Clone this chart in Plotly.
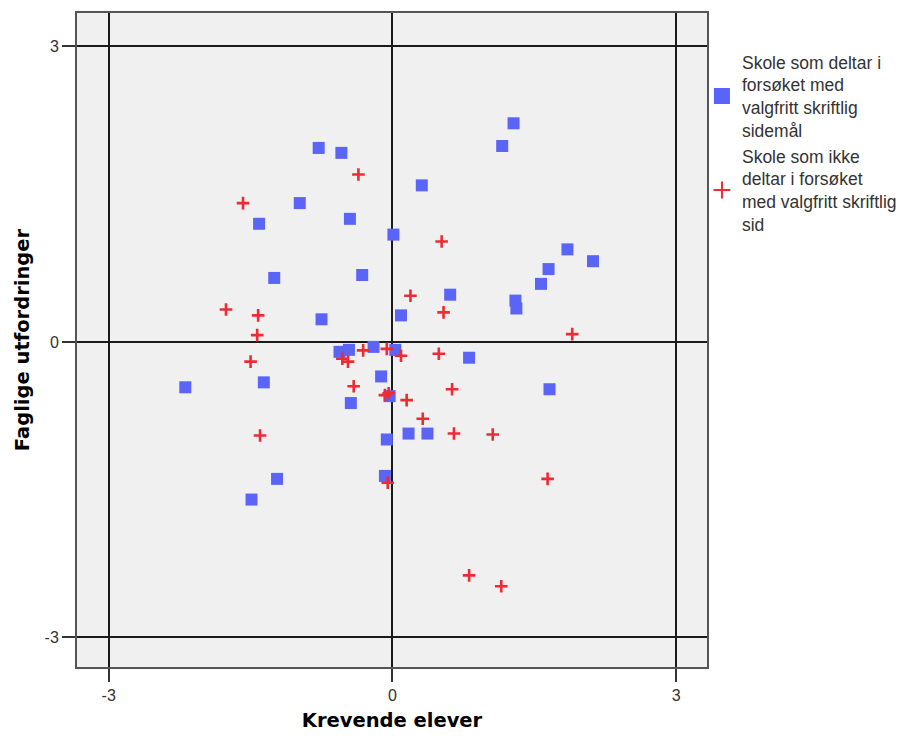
import plotly.graph_objects as go

# Schools taking part in the trial with optional written "sidemål"
deltar_x = [-0.78, -0.54, -0.98, -1.41, -0.45, 0.01, -1.25, -0.32, -0.75, 0.09,
            1.28, 1.16, 0.31, 1.85, 2.12, 1.65, 1.57, 0.61, 1.30, 1.31,
            -0.56, -0.46, -0.20, 0.03, 0.81, -2.19, -1.36, -0.12, -0.44, -0.03,
            -0.06, -1.22, -0.08, -1.49, 1.66, 0.17, 0.37]
deltar_y = [1.97, 1.92, 1.41, 1.20, 1.25, 1.09, 0.65, 0.68, 0.23, 0.27,
            2.22, 1.99, 1.59, 0.94, 0.82, 0.74, 0.59, 0.48, 0.42, 0.34,
            -0.10, -0.08, -0.05, -0.08, -0.16, -0.46, -0.41, -0.35, -0.62, -0.55,
            -0.99, -1.39, -1.36, -1.60, -0.48, -0.93, -0.93]

# Schools not taking part in the trial
ikke_x = [-0.36, -1.58, -1.76, -1.42, -1.43, 0.52, 0.19, 0.54, 1.90, -1.50,
          -0.53, -0.47, -0.31, -0.06, -0.41, -0.08, -0.04, -1.40, -0.05, 0.09,
          0.49, 0.63, 0.15, 0.32, 0.65, 1.06, 1.64, 0.81, 1.15]
ikke_y = [1.70, 1.41, 0.33, 0.27, 0.07, 1.02, 0.47, 0.30, 0.08, -0.20,
          -0.17, -0.20, -0.085, -0.07, -0.45, -0.54, -0.52, -0.95, -1.43, -0.14,
          -0.12, -0.48, -0.59, -0.78, -0.93, -0.94, -1.39, -2.37, -2.48]

tick_vals = [-3, 0, 3]
tick_text = ["-3", "0", "3"]

name_deltar = "Skole som deltar i<br>forsøket med<br>valgfritt skriftlig<br>sidemål"
name_ikke = "Skole som ikke<br>deltar i forsøket<br>med valgfritt skriftlig<br>sid"

blue = "#5a64f6"
red = "#ee2b33"

fig = go.Figure()
fig.add_trace(go.Scatter(
    x=deltar_x, y=deltar_y, mode="markers", name=name_deltar, showlegend=False,
    marker=dict(symbol="square", size=12, color=blue, line=dict(width=0)),
))
fig.add_trace(go.Scatter(
    x=ikke_x, y=ikke_y, mode="markers", name=name_ikke, showlegend=False,
    marker=dict(symbol="cross-thin", size=9, color=red,
                line=dict(width=2.6, color=red)),
))
# Legend keys use larger symbols than the plotted points
fig.add_trace(go.Scatter(
    x=[None], y=[None], mode="markers", name=name_deltar,
    marker=dict(symbol="square", size=17, color=blue, line=dict(width=0)),
))
fig.add_trace(go.Scatter(
    x=[None], y=[None], mode="markers", name=name_ikke,
    marker=dict(symbol="cross-thin", size=12, color=red,
                line=dict(width=2, color=red)),
))

axis_common = dict(
    tickvals=tick_vals, ticktext=tick_text,
    showgrid=True, gridcolor="#1a1a1a", gridwidth=1.5,
    zeroline=True, zerolinecolor="#1a1a1a", zerolinewidth=1.5,
    showline=True, mirror=True, linecolor="#555555", linewidth=2,
    ticks="outside", ticklen=13, tickwidth=1.5, tickcolor="#333333",
    tickfont=dict(family="Liberation Sans", size=16, color="#333333"),
    automargin=False,
)

title_font = dict(family="DejaVu Sans", size=19.5, color="#000000")
fig.update_xaxes(range=[-3.335, 3.325],
                 title=dict(text="<b>Krevende elever</b>", standoff=10, font=title_font),
                 **axis_common)
fig.update_yaxes(range=[-3.30, 3.34],
                 title=dict(text="<b>Faglige utfordringer</b>", standoff=10, font=title_font),
                 **axis_common)

fig.update_layout(
    width=919, height=738,
    margin=dict(l=77, r=212, t=13, b=71),
    paper_bgcolor="#ffffff",
    plot_bgcolor="#f0f0f0",
    showlegend=True,
    legend=dict(x=0.992, xanchor="left", y=0.9526, yanchor="top",
                font=dict(family="Liberation Sans", size=17.5, color="#333333"),
                bgcolor="rgba(0,0,0,0)", itemsizing="trace"),
)

fig.write_html("out.html")
